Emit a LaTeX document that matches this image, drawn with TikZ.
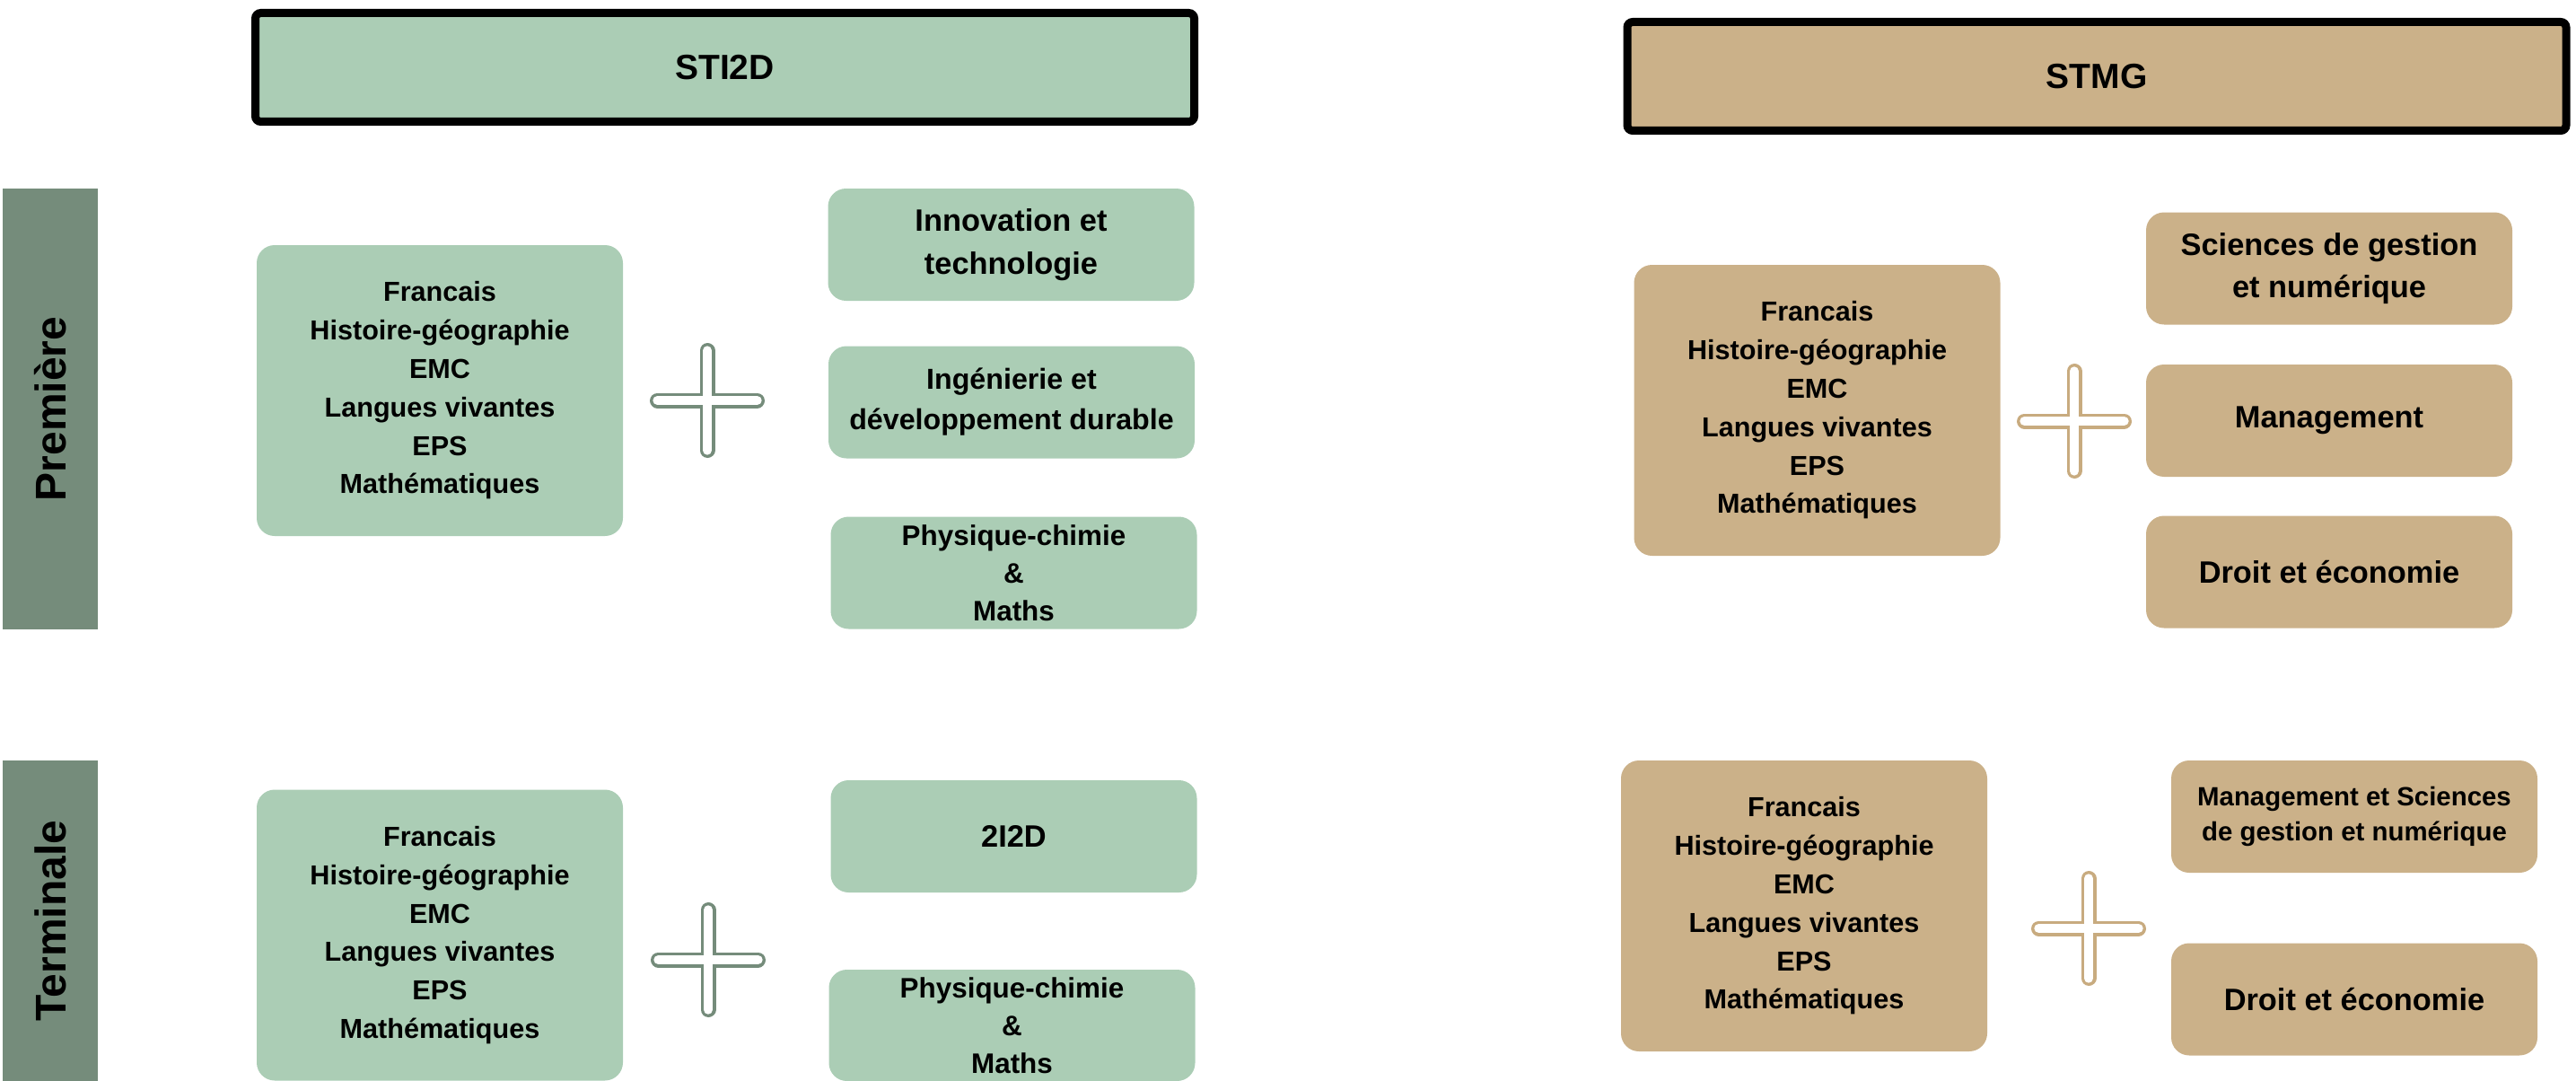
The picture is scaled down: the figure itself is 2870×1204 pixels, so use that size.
\documentclass[tikz,border=0pt]{standalone}
\usepackage{fontspec}
\setmainfont{Liberation Sans}
\usepackage{xcolor}
\usepackage{tikz}
\definecolor{vsti}{RGB}{171,205,181}
\definecolor{bstmg}{RGB}{203,177,137}
\definecolor{vfonce}{RGB}{117,140,123}
\definecolor{bfonce}{RGB}{200,171,127}

\begin{document}
\begin{tikzpicture}[x=0.5pt, y=-0.5pt, font=\bfseries,
  entete/.style={draw=black, line width=4.5pt, rounded corners=3pt, minimum width=523pt, minimum height=60.5pt, inner sep=0pt, font=\bfseries\fontsize{19.5}{23}\selectfont},
  niveau/.style={fill=vfonce, rotate=90, inner sep=0pt, minimum height=53pt, font=\bfseries\fontsize{24}{24}\selectfont},
  tronc/.style={rounded corners=10pt, minimum width=204pt, minimum height=162pt, align=center, inner sep=0pt, font=\bfseries\fontsize{15.3}{21.4}\selectfont},
  specia/.style={rounded corners=10pt, minimum width=204pt, minimum height=62.5pt, align=center, inner sep=0pt, font=\bfseries\fontsize{17.2}{24}\selectfont},
  signeplus/.style={line width=1.65pt, double=white, double distance=5.2pt, line cap=round}]

\useasboundingbox (0,0) rectangle (2870,1204);

%% headers
\node[entete, fill=vsti]  (sti2d) at (807.5,75) {STI2D};
\node[entete, fill=bstmg] (stmg)  at (2336,85)  {STMG};

%% side labels
\node[niveau, minimum width=245.5pt] (premiere)  at (56,455.5)  {Première};
\node[niveau, minimum width=178.5pt] (terminale) at (56,1025.5) {Terminale};

%% STI2D -- premiere
\node[tronc, fill=vsti] (stiTroncP) at (490,435) {Francais\\Histoire-géographie\\EMC\\Langues vivantes\\EPS\\Mathématiques};
\node[specia, fill=vsti] (innov) at (1126.5,272.5) {Innovation et\\technologie};
\node[specia, fill=vsti, font=\bfseries\fontsize{16.1}{22.5}\selectfont] (inge) at (1127,448) {Ingénierie et\\développement durable};
\node[specia, fill=vsti, font=\bfseries\fontsize{15.7}{21}\selectfont] (physP) at (1129.5,638) {Physique-chimie\\\&\\Maths};
\coordinate (plusStiP) at (788,446);
\draw[signeplus, vfonce] (plusStiP) ++(-55.5,0) -- ++(111,0) (plusStiP) ++(0,-55.5) -- ++(0,111);

%% STI2D -- terminale
\node[tronc, fill=vsti] (stiTroncT) at (490,1041.5) {Francais\\Histoire-géographie\\EMC\\Langues vivantes\\EPS\\Mathématiques};
\node[specia, fill=vsti] (deuxid) at (1129.5,931.5) {2I2D};
\node[specia, fill=vsti, minimum height=62pt, font=\bfseries\fontsize{15.7}{21}\selectfont] (physT) at (1127.5,1142) {Physique-chimie\\\&\\Maths};
\coordinate (plusStiT) at (789,1069);
\draw[signeplus, vfonce] (plusStiT) ++(-55.5,0) -- ++(111,0) (plusStiT) ++(0,-55.5) -- ++(0,111);

%% STMG -- premiere
\node[tronc, fill=bstmg] (stmgTroncP) at (2024.5,457) {Francais\\Histoire-géographie\\EMC\\Langues vivantes\\EPS\\Mathématiques};
\node[specia, fill=bstmg, font=\bfseries\fontsize{17.2}{23.6}\selectfont] (sgn) at (2595,299) {Sciences de gestion\\et numérique};
\node[specia, fill=bstmg] (mgmt) at (2595,468.5) {Management};
\node[specia, fill=bstmg] (droitP) at (2595,637) {Droit et économie};
\coordinate (plusStmgP) at (2311,469);
\draw[signeplus, bfonce] (plusStmgP) ++(-55.5,0) -- ++(111,0) (plusStmgP) ++(0,-55.5) -- ++(0,111);

%% STMG -- terminale
\node[tronc, fill=bstmg] (stmgTroncT) at (2010,1009) {Francais\\Histoire-géographie\\EMC\\Langues vivantes\\EPS\\Mathématiques};
\node[specia, fill=bstmg, font=\bfseries\fontsize{14.7}{19.7}\selectfont] (mgsgn) at (2623,909.5) {Management et Sciences\\de gestion et numérique};
\node[specia, fill=bstmg] (droitT) at (2623,1113) {Droit et économie};
\coordinate (plusStmgT) at (2327,1034);
\draw[signeplus, bfonce] (plusStmgT) ++(-55.5,0) -- ++(111,0) (plusStmgT) ++(0,-55.5) -- ++(0,111);

\end{tikzpicture}
\end{document}
